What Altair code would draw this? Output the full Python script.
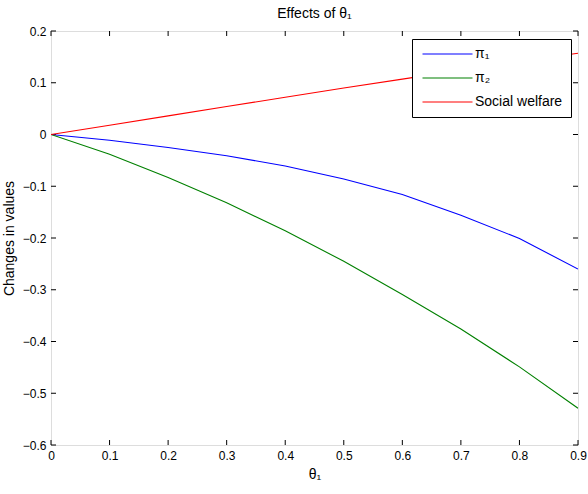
import altair as alt
import pandas as pd

theta = [0.0, 0.1, 0.2, 0.3, 0.4, 0.5, 0.6, 0.7, 0.8, 0.9]
pi1 = [0.0, -0.011, -0.025, -0.041, -0.061, -0.086, -0.116, -0.156, -0.201, -0.260]
pi2 = [0.0, -0.038, -0.083, -0.132, -0.186, -0.245, -0.309, -0.376, -0.449, -0.529]
welfare = [0.0, 0.018, 0.036, 0.054, 0.072, 0.090, 0.107, 0.124, 0.141, 0.157]

series_names = ["π₁", "π₂", "Social welfare"]
series_colors = ["#0000ff", "#008000", "#ff0000"]

x_ticks = [0.0, 0.1, 0.2, 0.3, 0.4, 0.5, 0.6, 0.7, 0.8, 0.9]
y_ticks = [-0.6, -0.5, -0.4, -0.3, -0.2, -0.1, 0.0, 0.1, 0.2]

rows = []
for name, vals in zip(series_names, [pi1, pi2, welfare]):
    for t, v in zip(theta, vals):
        rows.append({"theta": t, "value": v, "series": name})
df = pd.DataFrame(rows)
dx = pd.DataFrame({"tx": x_ticks})
dy = pd.DataFrame({"ty": y_ticks})

W, H = 527, 414
FONT = "Liberation Sans"
TL = 5

xscale = alt.Scale(domain=[0, 0.9], nice=False, zero=False)
yscale = alt.Scale(domain=[-0.6, 0.2], nice=False, zero=False)

xaxis = alt.Axis(values=x_ticks, format=".1~f", title="θ₁", grid=False,
                 ticks=False, domain=False, labelPadding=5,
                 labelFontSize=12, labelColor="black", titleFontSize=14,
                 titleFontWeight="normal", titleColor="black", titlePadding=6,
                 labelFlush=False, labelFont=FONT, titleFont=FONT)
yaxis = alt.Axis(values=y_ticks, format=".1~f", title="Changes in values",
                 grid=False, ticks=False, domain=False, labelPadding=5,
                 labelFontSize=12, labelColor="black", titleFontSize=14,
                 titleFontWeight="normal", titleColor="black", titlePadding=6,
                 labelFlush=False, labelFont=FONT, titleFont=FONT)

lines = alt.Chart(df).mark_line(strokeWidth=1.1, clip=True).encode(
    x=alt.X("theta:Q", scale=xscale, axis=xaxis, title="θ₁"),
    y=alt.Y("value:Q", scale=yscale, axis=yaxis, title="Changes in values"),
    color=alt.Color("series:N",
                    scale=alt.Scale(domain=series_names, range=series_colors),
                    sort=series_names,
                    legend=alt.Legend(title=None, orient="none", legendX=361, legendY=8,
                                      symbolType="M-1.8,0H18.2", symbolSize=25,
                                      symbolStrokeWidth=1.1, symbolFillColor="transparent",
                                      labelFontSize=14,
                                      labelFont=FONT, labelColor="black",
                                      labelOffset=41, padding=8, rowPadding=10,
                                      strokeColor="black", fillColor="white",
                                      cornerRadius=0, labelLimit=300)),
)

common = dict(color="black", strokeWidth=1)
bottom_ticks = alt.Chart(dx).mark_rule(**common).encode(
    x=alt.X("tx:Q", scale=xscale, axis=xaxis, title="θ₁"), y=alt.value(H), y2=alt.value(H - TL))
top_ticks = alt.Chart(dx).mark_rule(**common).encode(
    x=alt.X("tx:Q", scale=xscale, axis=xaxis, title="θ₁"), y=alt.value(0), y2=alt.value(TL))
left_ticks = alt.Chart(dy).mark_rule(**common).encode(
    y=alt.Y("ty:Q", scale=yscale, axis=yaxis, title="Changes in values"), x=alt.value(0), x2=alt.value(TL))
right_ticks = alt.Chart(dy).mark_rule(**common).encode(
    y=alt.Y("ty:Q", scale=yscale, axis=yaxis, title="Changes in values"), x=alt.value(W), x2=alt.value(W - TL))

chart = alt.layer(bottom_ticks, top_ticks, left_ticks, right_ticks, lines).properties(
    width=W, height=H,
    title=alt.TitleParams("Effects of θ₁", fontSize=14, fontWeight="normal",
                          font=FONT, color="black", offset=4),
    autosize=alt.AutoSizeParams(type="none"),
    padding={"left": 51, "top": 31, "right": 10, "bottom": 49},
).configure_view(stroke="black", strokeWidth=1.2).configure(background="white")

chart.save("out.html", embed_options={"renderer": "svg", "actions": False})
